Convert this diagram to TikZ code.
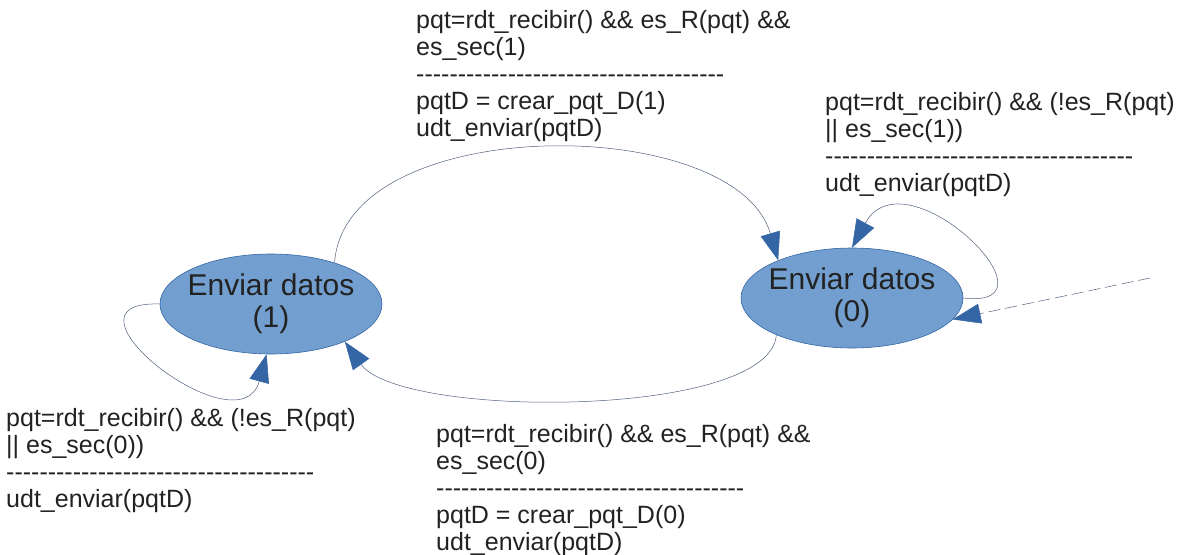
\documentclass[tikz,border=0pt]{standalone}
\usepackage{fontspec}
\setmainfont{Liberation Sans}
\usepackage{xcolor}
\usetikzlibrary{shapes.geometric, arrows.meta, positioning}
\definecolor{estado}{HTML}{729FCF}
\definecolor{borde}{HTML}{3465A4}
\definecolor{punta}{HTML}{3465A4}
\definecolor{linea}{RGB}{80,95,125}
\definecolor{texto}{HTML}{222222}
\newcommand{\guiones}{\foreach \k in {1,...,37}{-}}

\begin{document}
\begin{tikzpicture}[x=1pt,y=-1pt,
    estadobox/.style={ellipse,draw=borde,fill=estado,line width=0.6pt,minimum width=222pt,minimum height=100pt,inner xsep=-6pt,inner ysep=0pt,align=center,font=\fontsize{30}{32}\selectfont,text=texto},
    etiqueta/.style={anchor=north west,inner sep=0pt,align=left,font=\fontsize{25}{27}\selectfont,text=texto},
    trans/.style={draw=linea,line width=0.5pt,-{Triangle[length=28pt,width=20pt,color=punta]}}]
  \useasboundingbox (0,0) rectangle (1180,554);

  % estados
  \node[estadobox] (datos1) at (271,304) {Enviar datos\\(1)};
  \node[estadobox] (datos0) at (852,298) {Enviar datos\\(0)};
  \coordinate (entrada) at (1150,278);

  % transiciones
  \draw[trans] (datos1.33) .. controls (345,112) and (735,112) .. (datos0.153);
  \draw[trans] (datos0.206) .. controls (770,419) and (400,419) .. (datos1.-27);
  \draw[trans] (datos1.180) .. controls (45,300) and (240,452) .. (datos1.265);
  \draw[trans] (datos0.0) .. controls (1068,310) and (905,150) .. (datos0.90);
  \draw[trans,dash pattern=on 12pt off 5pt] (entrada) -- (datos0.-12);

  % etiquetas
  \node[etiqueta] (eti10) at (416,10) {pqt=rdt\_recibir() \&\& es\_R(pqt) \&\&\\es\_sec(1)\\\guiones\\pqtD = crear\_pqt\_D(1)\\udt\_enviar(pqtD)};
  \node[etiqueta] (eti00) at (825,92) {pqt=rdt\_recibir() \&\& (!es\_R(pqt)\\|| es\_sec(1))\\\guiones\\udt\_enviar(pqtD)};
  \node[etiqueta] (eti11) at (6,408) {pqt=rdt\_recibir() \&\& (!es\_R(pqt)\\|| es\_sec(0))\\\guiones\\udt\_enviar(pqtD)};
  \node[etiqueta] (eti01) at (436,424) {pqt=rdt\_recibir() \&\& es\_R(pqt) \&\&\\es\_sec(0)\\\guiones\\pqtD = crear\_pqt\_D(0)\\udt\_enviar(pqtD)};
\end{tikzpicture}
\end{document}
